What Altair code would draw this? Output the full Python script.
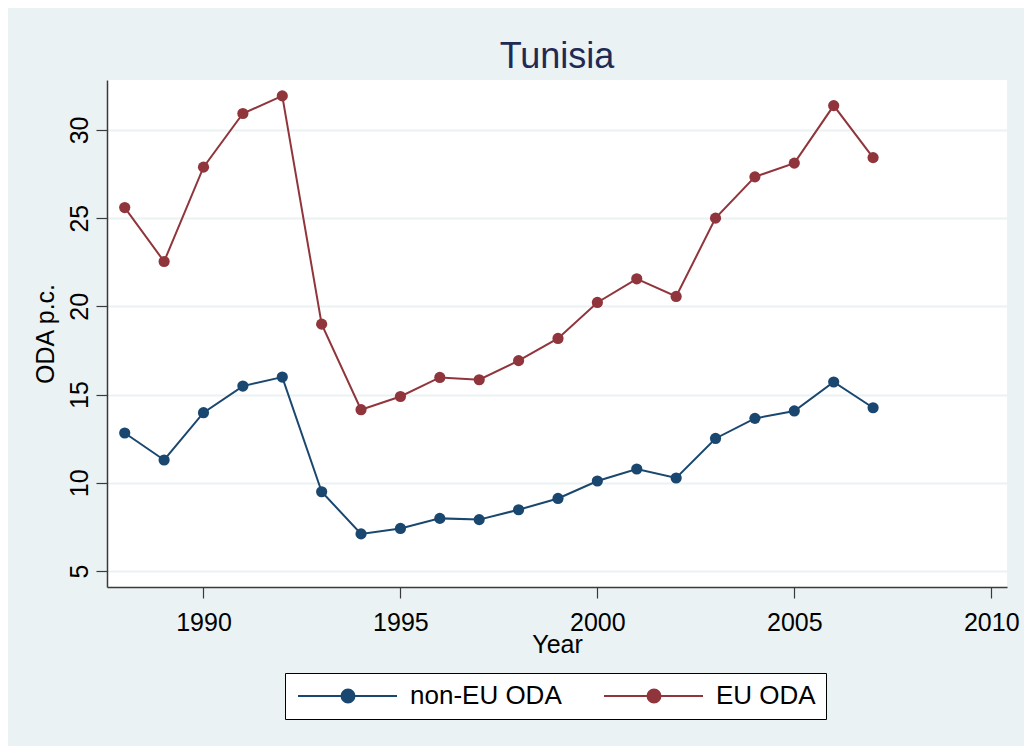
import altair as alt
import pandas as pd

years = list(range(1988, 2008))
eu_oda = [25.6, 22.54, 27.89, 30.93, 31.93, 18.99, 14.14, 14.89, 15.97, 15.84,
          16.92, 18.18, 20.22, 21.56, 20.56, 25.0, 27.34, 28.12, 31.38, 28.43]
non_eu_oda = [12.82, 11.29, 13.97, 15.48, 15.99, 9.49, 7.10, 7.41, 7.98, 7.91,
              8.47, 9.11, 10.10, 10.78, 10.27, 12.51, 13.65, 14.07, 15.71, 14.25]
series = ["non-EU ODA", "EU ODA"]
colors = ["#1A476F", "#90353B"]
x_ticks = [1990, 1995, 2000, 2005, 2010]
y_ticks = [5, 10, 15, 20, 25, 30]

df = pd.DataFrame({
    "Year": years + years,
    "ODA": non_eu_oda + eu_oda,
    "Series": [series[0]] * len(years) + [series[1]] * len(years),
})

FONT = "Liberation Sans"

x = alt.X("Year:Q",
          scale=alt.Scale(domain=[1987.55, 2010.4], nice=False, zero=False),
          axis=alt.Axis(values=x_ticks, format="d", title="Year", grid=False,
                        labelPadding=12, titlePadding=-3))
y = alt.Y("ODA:Q",
          scale=alt.Scale(domain=[4.09, 32.83], nice=False, zero=False),
          axis=alt.Axis(values=y_ticks, title="ODA p.c.", grid=True,
                        gridColor="#EAF2F3", gridWidth=2,
                        labelAngle=270, labelAlign="center",
                        labelBaseline="alphabetic", labelPadding=9,
                        titlePadding=9))

legend_path = "M-1,0H8.9M3.35,0A0.65,0.65 0 1,0 4.65,0A0.65,0.65 0 1,0 3.35,0Z"

color = alt.Color("Series:N",
                  scale=alt.Scale(domain=series, range=colors),
                  legend=alt.Legend(title=None, orient="none", direction="horizontal",
                                    legendX=178, legendY=593,
                                    symbolType=legend_path, symbolSize=400,
                                    symbolStrokeWidth=2, symbolOpacity=1,
                                    labelOffset=89, columnPadding=38,
                                    padding=10, strokeColor="black", fillColor="white",
                                    labelFontSize=26, labelFont=FONT,
                                    labelColor="black"))

lines = alt.Chart(df).mark_line(strokeWidth=2).encode(x=x, y=y, color=color)
points = alt.Chart(df).mark_point(filled=True, size=125, opacity=1).encode(x=x, y=y, color=color)

chart = alt.layer(lines, points).properties(
    width=900, height=507,
    title=alt.TitleParams("Tunisia", fontSize=36, font=FONT, color="#1F2A56",
                          fontWeight="normal", anchor="middle", frame="group",
                          baseline="alphabetic", offset=13, dy=37),
    autosize=alt.AutoSizeParams(type="none"),
    padding={"left": 99, "top": 72, "right": 17, "bottom": 159},
    background="#EAF2F3",
).configure_view(
    fill="white", stroke=None
).configure_axis(
    domainColor="#3a3a3a", domainWidth=1.5,
    tickColor="#3a3a3a", tickSize=11, tickWidth=1.2,
    labelFont=FONT, labelFontSize=25, labelColor="black",
    titleFont=FONT, titleFontSize=25, titleFontWeight="normal", titleColor="black",
)

chart.save("out.html", embed_options={"renderer": "svg", "actions": False})
